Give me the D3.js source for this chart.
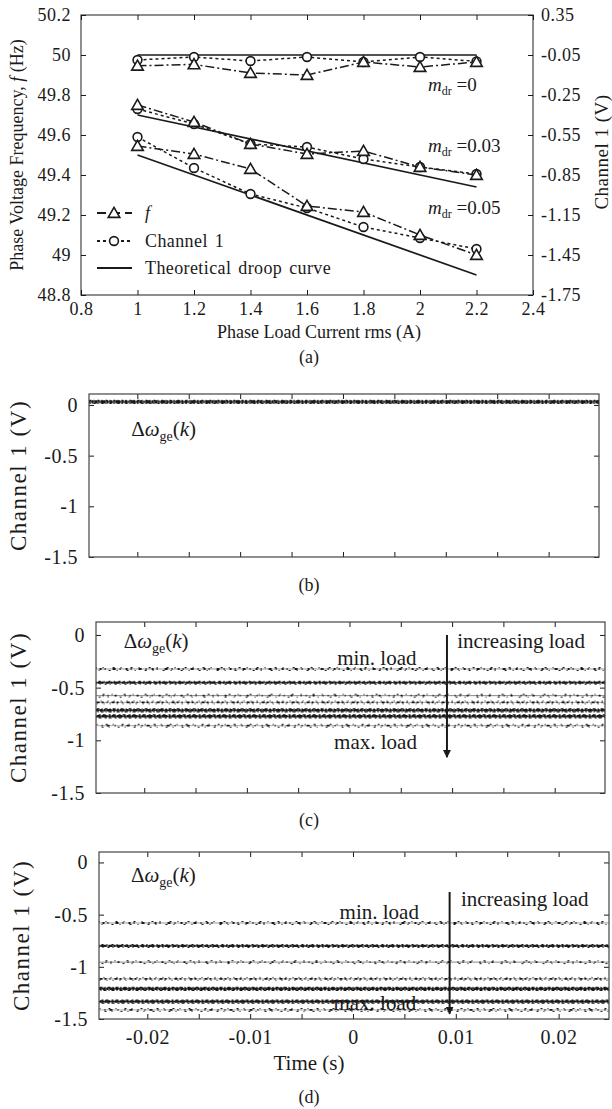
<!DOCTYPE html>
<html>
<head>
<meta charset="utf-8">
<script src="https://cdn.jsdelivr.net/npm/d3@7"></script>
<style>
body { margin: 0; background: #fff; }
text { font-family: "Liberation Serif", "Times New Roman", serif; fill: #1a1a1a; }
</style>
</head>
<body>
<svg id="fig" width="612" height="1109"></svg>
<script>
// ---- data: panel (a) ----
var loadCurrent = [1, 1.2, 1.4, 1.6, 1.8, 2.0, 2.2];
var freqM0  = [49.946, 49.953, 49.91, 49.90, 49.965, 49.94, 49.965];
var freqM03 = [49.75, 49.665, 49.555, 49.505, 49.52, 49.44, 49.40];
var freqM05 = [49.545, 49.505, 49.43, 49.245, 49.215, 49.10, 49.0];
// channel 1 in volts (right axis)
var chanM0  = [-0.075, -0.06, -0.08, -0.06, -0.085, -0.06, -0.082];
var chanM03 = [-0.355, -0.4675, -0.6175, -0.64, -0.73, -0.79, -0.8425];
var chanM05 = [-0.565, -0.7975, -0.9925, -1.0975, -1.24, -1.3225, -1.405];
var theoryCurrent = [1, 2.2];
var theoryM0  = [50, 50];
var theoryM03 = [49.7, 49.34];
var theoryM05 = [49.5, 48.9];
var droopLabels = ["0", "0.03", "0.05"];
var freqTicks = [48.8, 49, 49.2, 49.4, 49.6, 49.8, 50, 50.2];
var chanAxisTicks = [-1.75, -1.45, -1.15, -0.85, -0.55, -0.25, -0.05, 0.35];
var currentTicks = [0.8, 1, 1.2, 1.4, 1.6, 1.8, 2, 2.2, 2.4];

// ---- data: panels (b)-(d), trace levels of Channel 1 (V) ----
var levelsB = [0.03];
var levelsC = [-0.323, -0.453, -0.576, -0.64, -0.715, -0.772, -0.861];
var levelsD = [-0.58, -0.80, -0.955, -1.115, -1.21, -1.333, -1.413];
var timeTicks = [-0.02, -0.01, 0, 0.01, 0.02];
var timeMinor = [-0.02, -0.015, -0.01, -0.005, 0, 0.005, 0.01, 0.015, 0.02];
var voltTicks = [0, -0.5, -1, -1.5];

var ink = "#1a1a1a";
var svg = d3.select("#fig");
var defs = svg.append("defs");
defs.append("marker").attr("id", "arrow")
  .attr("viewBox", "0 0 10 10").attr("refX", 9).attr("refY", 5)
  .attr("markerWidth", 4).attr("markerHeight", 5).attr("orient", "auto")
  .append("path").attr("d", "M0,0 L10,5 L0,10 z").attr("fill", ink);

function noDomain(g) {
  g.select(".domain").remove();
  g.selectAll(".tick line").attr("stroke", ink);
}
function tickFont(size) {
  return function (g) {
    g.selectAll("text").style("font-size", size + "px")
      .style("font-family", "Liberation Serif").style("letter-spacing", "0.5px");
  };
}

// ================= panel (a) =================
(function () {
  var L = 81, R = 533, T = 15, B = 295;
  var x = d3.scaleLinear().domain([0.8, 2.4]).range([L, R]);
  var y = d3.scaleLinear().domain([48.8, 50.2]).range([B, T]);
  // right axis is piecewise: map its tick values onto the left tick positions
  var yV = d3.scaleLinear().domain(chanAxisTicks).range(freqTicks.map(y));

  var g = svg.append("g");
  g.append("rect").attr("x", L).attr("y", T).attr("width", R - L).attr("height", B - T)
    .attr("fill", "none").attr("stroke", "#444").attr("stroke-width", 1.2);

  g.append("g").attr("transform", "translate(" + L + ",0)")
    .call(d3.axisLeft(y).tickValues(freqTicks).tickSize(-5).tickPadding(10)
      .tickFormat(function (d) { return String(+d.toFixed(1)); }))
    .call(noDomain).call(tickFont(18));
  g.append("g").attr("transform", "translate(" + R + ",0)")
    .call(d3.axisRight(yV).tickValues(chanAxisTicks).tickSize(-5).tickPadding(8)
      .tickFormat(function (d) { return String(d); }))
    .call(noDomain).call(tickFont(18));
  g.append("g").attr("transform", "translate(0," + B + ")")
    .call(d3.axisBottom(x).tickValues(currentTicks).tickSize(-5).tickPadding(7)
      .tickFormat(function (d) { return String(+d.toFixed(1)); }))
    .call(noDomain).call(tickFont(18));
  g.append("g").attr("transform", "translate(0," + T + ")")
    .call(d3.axisTop(x).tickValues(currentTicks).tickSize(-5).tickFormat(""))
    .call(noDomain);

  g.append("text").attr("transform", "translate(17," + (T + B) / 2 + ") rotate(-90)")
    .attr("text-anchor", "middle").attr("dy", "0.35em").style("font-size", "18px")
    .html('Phase Voltage Frequency, <tspan font-style="italic">f</tspan> (Hz)');
  g.append("text").attr("transform", "translate(601,152) rotate(-90)")
    .attr("text-anchor", "middle").attr("dy", "0.35em").style("font-size", "19px")
    .style("letter-spacing", "0.5px").text("Channel 1 (V)");
  g.append("text").attr("x", 319).attr("y", 332).attr("text-anchor", "middle")
    .attr("dy", "0.35em").style("font-size", "18px").text("Phase Load Current rms (A)");

  var lineF = d3.line().x(function (d) { return x(d[0]); }).y(function (d) { return y(d[1]); });
  var lineV = d3.line().x(function (d) { return x(d[0]); }).y(function (d) { return yV(d[1]); });
  function pairs(xs, ys) { return xs.map(function (v, i) { return [v, ys[i]]; }); }

  [theoryM0, theoryM03, theoryM05].forEach(function (s) {
    g.append("path").datum(pairs(theoryCurrent, s)).attr("d", lineF)
      .attr("fill", "none").attr("stroke", ink).attr("stroke-width", 1.7);
  });
  [chanM0, chanM03, chanM05].forEach(function (s) {
    var pts = pairs(loadCurrent, s);
    g.append("path").datum(pts).attr("d", lineV).attr("fill", "none")
      .attr("stroke", ink).attr("stroke-width", 1.5).attr("stroke-dasharray", "3,3");
    g.selectAll(null).data(pts).enter().append("circle")
      .attr("cx", function (d) { return x(d[0]); }).attr("cy", function (d) { return yV(d[1]); })
      .attr("r", 4.4).attr("fill", "#fff").attr("stroke", ink).attr("stroke-width", 1.6);
  });
  var tri = d3.symbol().type(d3.symbolTriangle).size(58);
  [freqM0, freqM03, freqM05].forEach(function (s) {
    var pts = pairs(loadCurrent, s);
    g.append("path").datum(pts).attr("d", lineF).attr("fill", "none")
      .attr("stroke", ink).attr("stroke-width", 1.5).attr("stroke-dasharray", "9,3,2,3");
    g.selectAll(null).data(pts).enter().append("path").attr("d", tri)
      .attr("transform", function (d) { return "translate(" + x(d[0]) + "," + (y(d[1]) + 1) + ")"; })
      .attr("fill", "#fff").attr("stroke", ink).attr("stroke-width", 1.6);
  });

  // droop labels
  var labY = [84, 145, 207];
  droopLabels.forEach(function (m, i) {
    g.append("text").attr("x", 428).attr("y", labY[i]).attr("dy", "0.35em").style("font-size", "19px")
      .html('<tspan font-style="italic">m</tspan><tspan font-size="12px" dy="4">dr</tspan><tspan dy="-4"> =' + m + '</tspan>');
  });

  // legend
  var lg = g.append("g");
  var rows = [
    { y: 213, dash: "9,5", mark: "tri", label: '<tspan font-style="italic">f</tspan>' },
    { y: 241, dash: "3,3", mark: "circ", label: "Channel 1" },
    { y: 268, dash: null, mark: null, label: "Theoretical droop curve" }
  ];
  rows.forEach(function (r) {
    lg.append("line").attr("x1", 97).attr("x2", 132).attr("y1", r.y).attr("y2", r.y)
      .attr("stroke", ink).attr("stroke-width", 2)
      .attr("stroke-dasharray", r.dash);
    if (r.mark === "tri") lg.append("path").attr("d", tri).attr("transform", "translate(114," + (r.y + 1) + ")")
      .attr("fill", "#fff").attr("stroke", ink).attr("stroke-width", 1.6);
    if (r.mark === "circ") lg.append("circle").attr("cx", 114).attr("cy", r.y).attr("r", 4.4)
      .attr("fill", "#fff").attr("stroke", ink).attr("stroke-width", 1.6);
    lg.append("text").attr("x", 145).attr("y", r.y).attr("dy", "0.35em").style("font-size", "18px")
      .style("word-spacing", "2px").style("letter-spacing", "0.4px").html(r.label);
  });

  svg.append("text").attr("x", 309).attr("y", 357).attr("text-anchor", "middle").attr("dy", "0.35em")
    .style("font-size", "18px").text("(a)");
})();

// ================= panels (b), (c), (d) =================
var traceStyles = [
  { base: "#999", w: 2.0, dash: "1,5,2,3,1,7,3,4", w2: 1.1, dash2: "1,9,2,6" },
  { base: ink, w: 2.2, dash: "4,1,2,1,6,2", w2: 1.2, dash2: "2,3,1,4" },
  { base: "#888", w: 1.8, dash: "1,6,2,8,1,4", w2: 1.0, dash2: "1,11,2,7" },
  { base: "#aaa", w: 1.8, dash: "2,3,1,4,3,2", w2: 1.0, dash2: "1,6,1,5" },
  { base: ink, w: 2.6, dash: "5,1,3,1,2,1", w2: 1.3, dash2: "3,2,1,2" },
  { base: ink, w: 2.6, dash: "6,1,2,1,4,1", w2: 1.3, dash2: "2,2,3,3" },
  { base: "#aaa", w: 1.8, dash: "1,4,3,5,1,6", w2: 1.0, dash2: "1,8,2,5" }
];

function tracePanel(opt) {
  var x = d3.scaleLinear().domain([-0.0247, 0.0249]).range([opt.L, opt.R]);
  var y = d3.scaleLinear().domain([-1.5, opt.top]).range([opt.B, opt.T]);
  var g = svg.append("g");
  var cid = "clip" + opt.name;
  defs.append("clipPath").attr("id", cid).append("rect")
    .attr("x", opt.L).attr("y", opt.T).attr("width", opt.R - opt.L).attr("height", opt.B - opt.T);

  g.append("g").attr("transform", "translate(" + opt.L + ",0)")
    .call(d3.axisLeft(y).tickValues(voltTicks).tickSize(-5).tickPadding(11)
      .tickFormat(function (d) { return String(d); }))
    .call(noDomain).call(tickFont(20));
  g.append("g").attr("transform", "translate(" + opt.R + ",0)")
    .call(d3.axisRight(y).tickValues(voltTicks).tickSize(-5).tickFormat("")).call(noDomain);
  g.append("g").attr("transform", "translate(0," + opt.B + ")")
    .call(d3.axisBottom(x).tickValues(timeMinor).tickSize(-5).tickPadding(11)
      .tickFormat(function (d) { return opt.labels && timeTicks.indexOf(d) >= 0 ? String(d) : ""; }))
    .call(noDomain).call(tickFont(20));
  g.append("g").attr("transform", "translate(0," + opt.T + ")")
    .call(d3.axisTop(x).tickValues(timeMinor).tickSize(-5).tickFormat("")).call(noDomain);

  var line = d3.line().x(function (d) { return x(d[0]); }).y(function (d) { return y(d[1]); });
  var tg = g.append("g").attr("clip-path", "url(#" + cid + ")");
  opt.levels.forEach(function (lv, i) {
    var st = opt.styles[i];
    var pts = [[-0.03, lv], [0.03, lv]];
    tg.append("path").datum(pts).attr("d", line).attr("stroke", st.base).attr("stroke-width", 1).attr("fill", "none");
    tg.append("path").datum(pts).attr("d", line).attr("stroke", ink).attr("stroke-width", st.w)
      .attr("stroke-dasharray", st.dash).attr("fill", "none");
    tg.append("path").datum(pts).attr("d", line).attr("transform", "translate(3,1.5)")
      .attr("stroke", ink).attr("stroke-width", st.w2).attr("stroke-dasharray", st.dash2).attr("fill", "none");
    tg.append("path").datum(pts).attr("d", line).attr("transform", "translate(7,-1.4)")
      .attr("stroke", ink).attr("stroke-width", st.w2).attr("stroke-dasharray", st.dash2).attr("fill", "none");
  });

  g.append("rect").attr("x", opt.L).attr("y", opt.T).attr("width", opt.R - opt.L).attr("height", opt.B - opt.T)
    .attr("fill", "none").attr("stroke", "#444").attr("stroke-width", 1.2);

  g.append("text").attr("transform", "translate(" + opt.ylabX + "," + (opt.T + opt.B) / 2 + ") rotate(-90)")
    .attr("text-anchor", "middle").attr("dy", "0.35em").style("font-size", "23px")
    .style("letter-spacing", "1.5px").text("Channel 1 (V)");

  g.append("text").attr("x", x(opt.dwAt[0])).attr("y", y(opt.dwAt[1])).attr("dy", "0.35em").style("font-size", "21px")
    .html('\u0394<tspan font-style="italic">\u03c9</tspan><tspan font-size="14px" dy="5">ge</tspan><tspan dy="-5">(</tspan><tspan font-style="italic">k</tspan>)');

  if (opt.arrow) {
    var a = opt.arrow;
    g.append("line").attr("x1", x(a.t)).attr("x2", x(a.t)).attr("y1", y(a.from)).attr("y2", y(a.to))
      .attr("stroke", ink).attr("stroke-width", 2).attr("marker-end", "url(#arrow)");
    g.append("text").attr("x", x(a.minAt[0])).attr("y", y(a.minAt[1])).attr("dy", "0.35em")
      .style("font-size", "21px").text("min. load");
    g.append("text").attr("x", x(a.maxAt[0])).attr("y", y(a.maxAt[1])).attr("dy", "0.35em")
      .style("font-size", "21px").text("max. load");
    g.append("text").attr("x", x(a.incAt[0])).attr("y", y(a.incAt[1])).attr("dy", "0.35em")
      .style("font-size", "21px").text("increasing load");
  }
  svg.append("text").attr("x", 309).attr("y", opt.cap).attr("text-anchor", "middle").attr("dy", "0.35em")
    .style("font-size", "18px").text(opt.name === "b" ? "(b)" : opt.name === "c" ? "(c)" : "(d)");
}

tracePanel({
  name: "b", L: 89, R: 599, T: 394, B: 557, top: 0.108, levels: levelsB, ylabX: 18, cap: 585,
  styles: [{ base: ink, w: 3.2, dash: "3,1,1,1,5,1,2,1", w2: 1.4, dash2: "2,2,1,3" }],
  dwAt: [-0.0206, -0.23]
});
tracePanel({
  name: "c", L: 96, R: 605, T: 622, B: 793, top: 0.123, levels: levelsC, ylabX: 18, cap: 820,
  styles: traceStyles, dwAt: [-0.022, -0.057],
  arrow: { t: 0.0095, from: 0.0, to: -1.16, minAt: [-0.0012, -0.218], maxAt: [-0.0015, -1.016], incAt: [0.0105, -0.057] }
});
tracePanel({
  name: "d", L: 99, R: 609, T: 852, B: 1019, top: 0.1, levels: levelsD, ylabX: 21, cap: 1097,
  styles: traceStyles, dwAt: [-0.0216, -0.12],
  arrow: { t: 0.0094, from: -0.283, to: -1.45, minAt: [-0.0013, -0.475], maxAt: [-0.0019, -1.347], incAt: [0.0105, -0.35] },
  labels: true
});
svg.append("text").attr("x", 309).attr("y", 1063).attr("text-anchor", "middle").attr("dy", "0.35em")
  .style("font-size", "21px").text("Time (s)");
</script>
</body>
</html>
